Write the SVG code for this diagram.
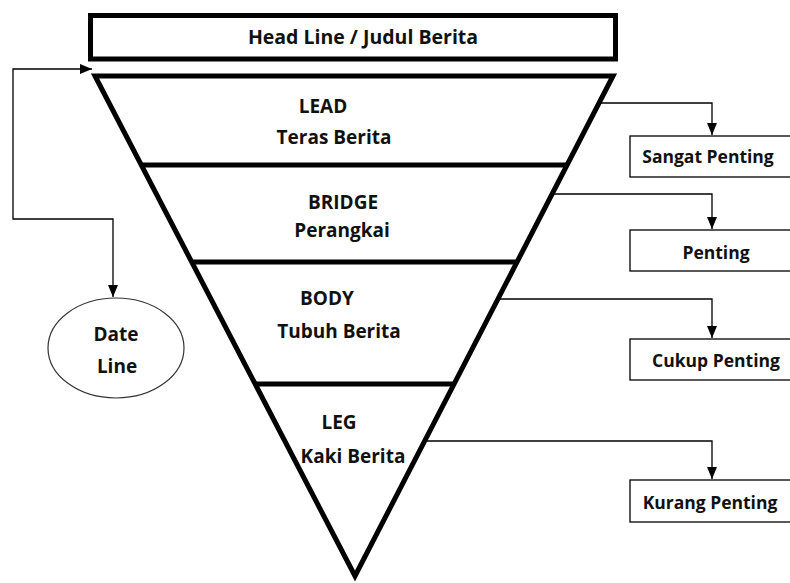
<svg xmlns="http://www.w3.org/2000/svg" width="790" height="583" viewBox="0 0 790 583">
<style>
  text { font-family: "Open Sans", "Liberation Sans", sans-serif; font-weight: 700; fill: #111; text-anchor: middle; }
  .hd { font-size: 19.5px; }
  .lbl { font-size: 19px; }
  .sm { font-size: 17.5px; }
  .thick { fill: none; stroke: #000; stroke-width: 5; }
  .thin { fill: #fff; stroke: #000; stroke-width: 1.3; }
  .conn { fill: none; stroke: #000; stroke-width: 1.3; }
</style>
<defs>
  <marker id="arr" markerUnits="userSpaceOnUse" markerWidth="12" markerHeight="12" viewBox="0 0 12 12" refX="12" refY="6" orient="auto-start-reverse">
    <path d="M0,1 L12,6 L0,11 Z" fill="#000"/>
  </marker>
</defs>
<rect width="790" height="583" fill="#fff"/>

<g id="headline">
  <rect class="thick" x="90.5" y="15.5" width="525" height="43.5"/>
  <text class="hd" x="363" y="44">Head Line / Judul Berita</text>
</g>

<g id="pyramid">
  <polygon class="thick" points="95,76 613,76 355,576"/>
  <line class="thick" x1="141" y1="165" x2="567" y2="165"/>
  <line class="thick" x1="191" y1="262" x2="517" y2="262"/>
  <line class="thick" x1="254.5" y1="384" x2="453.5" y2="384"/>
</g>

<g id="lead">
  <text class="lbl" x="323" y="113">LEAD</text>
  <text class="lbl" x="334" y="144">Teras Berita</text>
</g>
<g id="bridge">
  <text class="lbl" x="343" y="209">BRIDGE</text>
  <text class="lbl" x="342" y="237">Perangkai</text>
</g>
<g id="body">
  <text class="lbl" x="327" y="305">BODY</text>
  <text class="lbl" x="339" y="338">Tubuh Berita</text>
</g>
<g id="leg">
  <text class="lbl" x="339" y="429">LEG</text>
  <text class="lbl" x="353" y="463">Kaki Berita</text>
</g>

<g id="dateline">
  <ellipse cx="116" cy="348" rx="68" ry="50" fill="#fff" stroke="#333" stroke-width="1.2"/>
  <text class="lbl" x="116" y="341">Date</text>
  <text class="lbl" x="117" y="373">Line</text>
</g>

<g id="sangat-penting">
  <rect class="thin" x="630" y="136" width="170" height="41"/>
  <text class="sm" x="708" y="163">Sangat Penting</text>
</g>
<g id="penting">
  <rect class="thin" x="630" y="230" width="170" height="41"/>
  <text class="sm" x="716" y="259">Penting</text>
</g>
<g id="cukup-penting">
  <rect class="thin" x="630" y="339" width="170" height="41"/>
  <text class="sm" x="716" y="367">Cukup Penting</text>
</g>
<g id="kurang-penting">
  <rect class="thin" x="630" y="480" width="170" height="42"/>
  <text class="sm" x="710" y="509">Kurang Penting</text>
</g>

<g id="connectors">
  <path class="conn" d="M92,69 H13 V219 H113 V297" marker-start="url(#arr)" marker-end="url(#arr)"/>
  <path class="conn" d="M599,103 H712 V135" marker-end="url(#arr)"/>
  <path class="conn" d="M552,194 H712 V229" marker-end="url(#arr)"/>
  <path class="conn" d="M497.5,299 H712 V338" marker-end="url(#arr)"/>
  <path class="conn" d="M424,441 H712 V479" marker-end="url(#arr)"/>
</g>
</svg>
